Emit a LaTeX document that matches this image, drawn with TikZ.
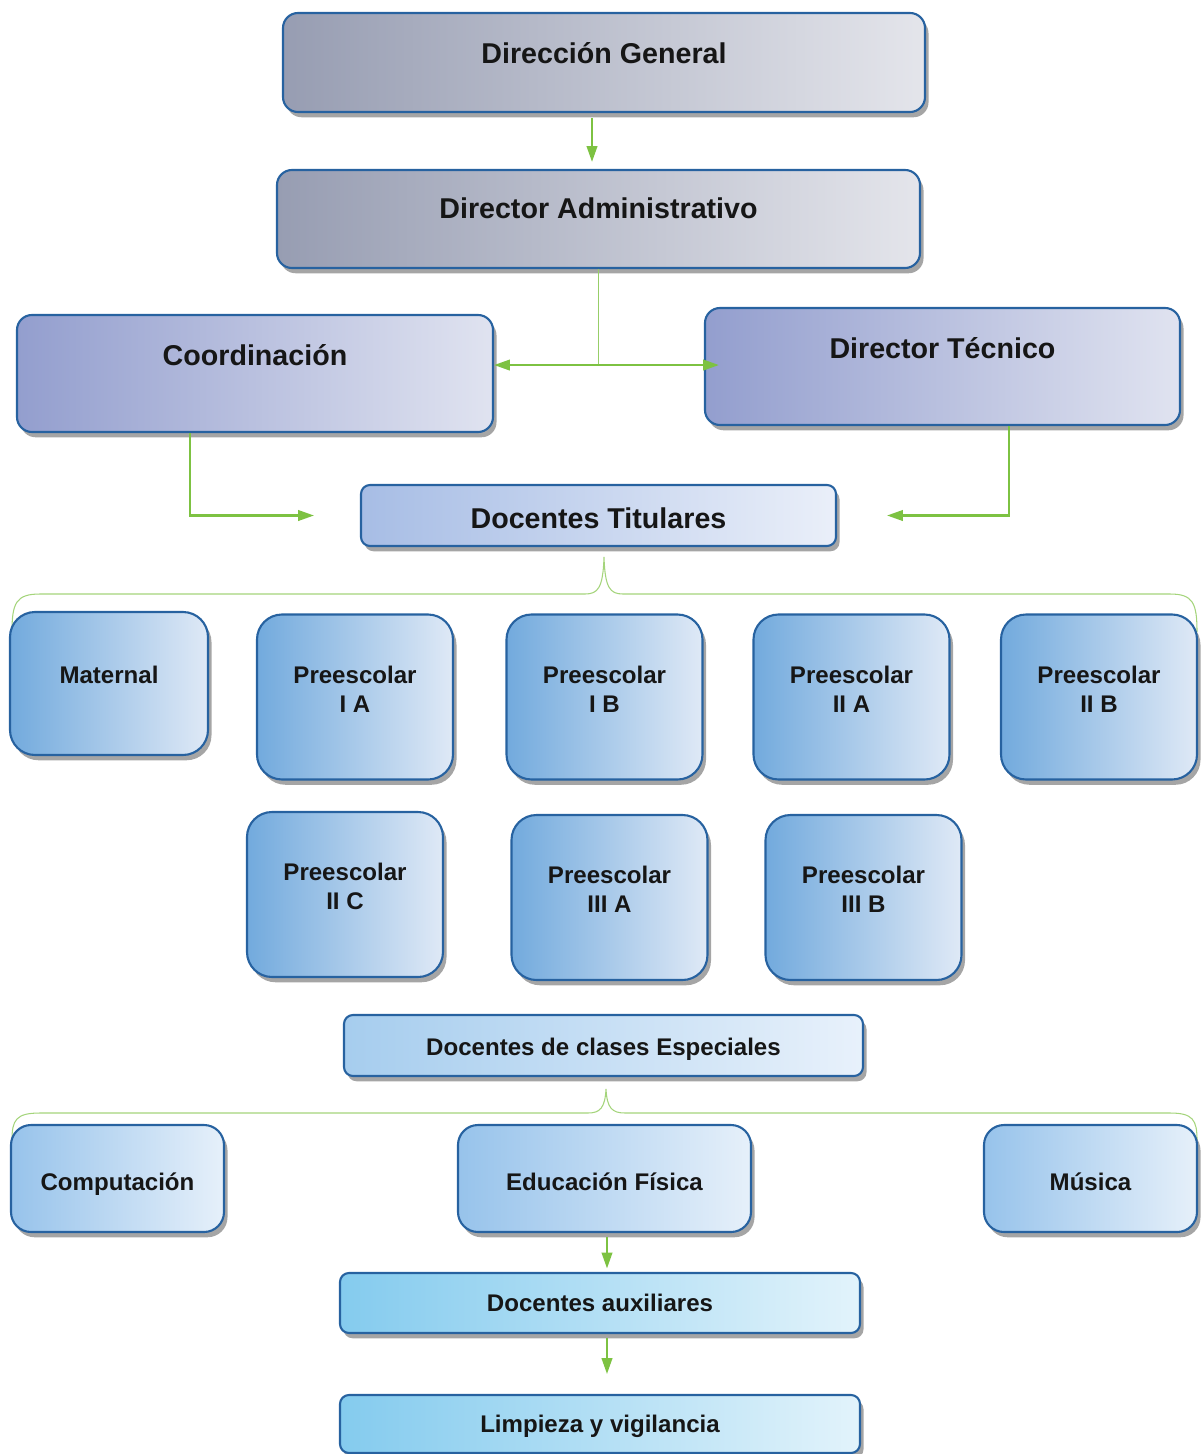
\documentclass[tikz,border=0pt]{standalone}
\usepackage{fontspec}
\setmainfont{Liberation Sans}
\usetikzlibrary{shadows,arrows.meta,calc}

\definecolor{boxedge}{HTML}{2762A0}
\definecolor{linegreen}{HTML}{7DC242}
\definecolor{txt}{HTML}{161616}
\definecolor{grayL}{HTML}{979DB2}
\definecolor{grayR}{HTML}{E4E5EB}
\definecolor{purpL}{HTML}{939ECE}
\definecolor{purpR}{HTML}{E0E3F0}
\definecolor{titL}{HTML}{A7BDE5}
\definecolor{titR}{HTML}{EAEFF9}
\definecolor{rowL}{HTML}{72AADD}
\definecolor{rowR}{HTML}{DFE9F6}
\definecolor{espL}{HTML}{A6CDEE}
\definecolor{espR}{HTML}{E8F1FB}
\definecolor{subL}{HTML}{97C3EB}
\definecolor{subR}{HTML}{E6F0FA}
\definecolor{auxL}{HTML}{84CBEE}
\definecolor{auxR}{HTML}{E2F3FB}

\tikzset{
  box/.style={draw=boxedge, line width=1.2pt, inner sep=0pt,
    drop shadow={shadow xshift=2pt, shadow yshift=-3pt, opacity=0.5, fill=black!70}},
  sz/.style 2 args={minimum width=#1*0.02cm, minimum height=#2*0.02cm},
  topbox/.style={box, rounded corners=0.3cm, left color=grayL, right color=grayR},
  midbox/.style={box, rounded corners=0.3cm, left color=purpL, right color=purpR},
  titbox/.style={box, rounded corners=0.18cm, left color=titL, right color=titR},
  rowbox/.style={box, rounded corners=0.5cm, left color=rowL, right color=rowR},
  espbox/.style={box, rounded corners=0.18cm, left color=espL, right color=espR},
  subbox/.style={box, rounded corners=0.4cm, left color=subL, right color=subR},
  auxbox/.style={box, rounded corners=0.18cm, left color=auxL, right color=auxR},
  bigtxt/.style={font=\fontsize{16.3}{19}\selectfont\bfseries, text=txt, anchor=base, inner sep=0pt},
  medtxt/.style={bigtxt, font=\fontsize{13.7}{16.5}\selectfont\bfseries},
  smalltxt/.style={font=\fontsize{13.7}{16.5}\selectfont\bfseries, text=txt, align=center, inner sep=0pt},
  arr/.style={draw=linegreen, line width=1.2pt, -{Triangle[length=9pt,width=6pt]}},
  line/.style={draw=linegreen!80, line width=0.8pt},
  brace/.style={draw=linegreen!70, line width=0.6pt}
}

\begin{document}
\begin{tikzpicture}[x=0.02cm,y=-0.02cm]
\useasboundingbox (0,0) rectangle (1203,1454);

% top levels
\node[topbox, sz={642}{99}] (dg) at (604,62.5) {};
\node[bigtxt] (dgl) at (604,63) {Dirección General};
\node[topbox, sz={643}{98}] (da) at (598.5,219) {};
\node[bigtxt] (dal) at (598.5,218) {Director Administrativo};

\node[midbox, sz={476}{117}] (co) at (255,373.5) {};
\node[bigtxt] (col) at (255,365) {Coordinación};
\node[midbox, sz={475}{117}] (dt) at (942.5,366.5) {};
\node[bigtxt] (dtl) at (942.5,358) {Director Técnico};

\node[titbox, sz={475}{61}] (dtit) at (598.5,515.5) {};
\node[bigtxt] (dtitl) at (598.5,528) {Docentes Titulares};

% connectors
\draw[arr, shorten <=3pt, shorten >=4pt] ([xshift=-0.24cm]dg.south) -- ([xshift=-0.24cm]dg.south |- da.north);
\coordinate (j) at ([yshift=-1.92cm]da.south);
\draw[line] (da.south) -- (j);
\draw[arr] (j) -- (co.east |- j);
\draw[arr] (j) -- ([xshift=0.3cm]dt.west |- j);
\draw[arr] ([xshift=-1.3cm]co.south) |- ([xshift=-0.92cm]dtit.west);
\draw[arr] ([xshift=1.33cm]dt.south) |- ([xshift=1cm]dtit.east);

% brace to the groups
\draw[brace] (12,632) .. controls (12,603) and (16,594) .. (40,594) -- (585,594)
  .. controls (598,594) and (603,588) .. (604,557)
  .. controls (605,588) and (610,594) .. (623,594) -- (1170,594)
  .. controls (1193,594) and (1197,603) .. (1197,632);

% groups
\node[rowbox, sz={198}{143}] (ma) at (109,683.5) {};
\node[medtxt] (mal) at (109,683) {Maternal};
\foreach \nm/\cx/\cy/\lb in {p1a/355/697/I A, p1b/604.5/697/I B, p2a/851.5/697/II A, p2b/1099/697/II B,
                            p2c/345/894.5/II C, p3a/609.5/897.5/III A, p3b/863.5/897.5/III B}{
  \node[rowbox, sz={196}{165}] (\nm) at (\cx,\cy) {};
  \node[smalltxt] (\nm l) at (\cx,\cy-8) {Preescolar\\\lb};
}

% special classes
\node[espbox, sz={519}{61}] (dce) at (603.5,1045.5) {};
\node[medtxt] (dcel) at (603.5,1055) {Docentes de clases Especiales};

\draw[brace] (12,1140) .. controls (12,1120) and (16,1113) .. (40,1113) -- (588,1113)
  .. controls (600,1113) and (605,1108) .. (606,1089)
  .. controls (607,1108) and (612,1113) .. (625,1113) -- (1170,1113)
  .. controls (1193,1113) and (1197,1120) .. (1197,1140);

\node[subbox, sz={213}{107}] (comp) at (117.5,1178.5) {};
\node[medtxt] (compl) at (117.5,1190) {Computación};
\node[subbox, sz={293}{107}] (ef) at (604.5,1178.5) {};
\node[medtxt] (efl) at (604.5,1190) {Educación Física};
\node[subbox, sz={213}{107}] (mu) at (1090.5,1178.5) {};
\node[medtxt] (mul) at (1090.5,1190) {Música};

% support staff
\node[auxbox, sz={520}{60}] (aux) at (600,1303) {};
\node[medtxt] (auxl) at (600,1311) {Docentes auxiliares};
\node[auxbox, sz={520}{58}] (lv) at (600,1424) {};
\node[medtxt] (lvl) at (600,1432) {Limpieza y vigilancia};

\draw[arr, shorten <=2pt, shorten >=2pt] ([xshift=0.05cm]ef.south) -- ([xshift=0.05cm]ef.south |- aux.north);
\draw[arr, shorten <=2pt, shorten >=0.4cm] ([xshift=0.14cm]aux.south) -- ([xshift=0.14cm]aux.south |- lv.north);
\end{tikzpicture}
\end{document}
